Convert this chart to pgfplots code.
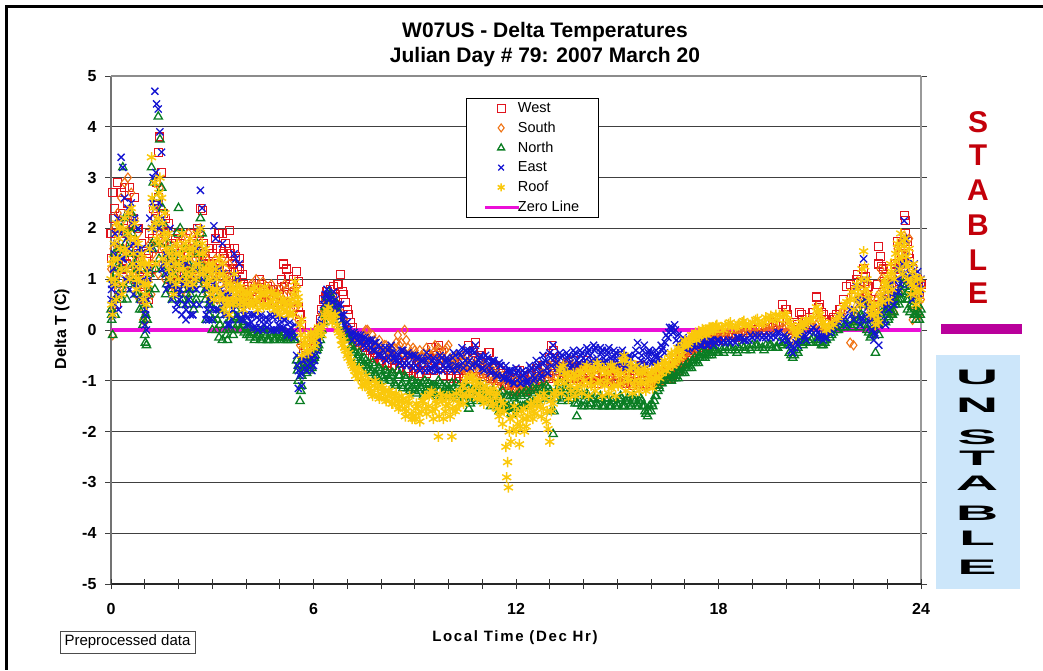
\documentclass[border=0pt]{standalone}
\usepackage{fontspec}
\setmainfont{Liberation Sans}
\usepackage{graphicx}
\usepackage{pgfplots}
\usepackage{pgfplotstable}
\pgfplotsset{compat=1.18}
\definecolor{cwest}{RGB}{225,20,30}
\definecolor{csouth}{RGB}{240,115,20}
\definecolor{cnorth}{RGB}{10,125,35}
\definecolor{ceast}{RGB}{20,20,210}
\definecolor{croof}{RGB}{250,200,10}
\definecolor{czero}{RGB}{235,15,215}
\definecolor{cbar}{RGB}{185,0,155}
\definecolor{cblue}{RGB}{204,230,250}
\definecolor{cstable}{RGB}{195,0,10}

% t west south north east roof
\pgfplotstableread{
t W S N E R
0.0 1.9 1.2 0.4 0.6 1.0
0.05 2.7 -0.1 -0.1 0.3 0.3
0.1 2.4 2.0 1.5 1.5 1.7
0.15 0.5 0.9 0.6 0.9 0.6
0.2 2.9 2.3 0.9 2.2 1.4
0.25 1.6 1.4 1.6 1.1 2.0
0.3 2.7 2.6 2.0 3.4 1.2
0.35 1.2 0.8 3.2 3.2 0.9
0.4 2.8 2.9 2.2 2.6 2.2
0.45 1.9 1.5 0.8 1.2 1.5
0.5 2.5 3.0 1.9 2.4 1.9
0.55 2.8 2.3 1.2 0.8 1.0
0.6 2.1 2.7 2.3 2.5 2.4
0.65 1.4 1.1 1.5 1.7 1.3
0.7 2.6 2.2 2.0 2.2 2.1
0.75 1.0 0.7 0.7 0.9 0.8
0.8 2.0 1.9 1.4 2.0 1.7
0.85 0.9 0.6 0.4 1.2 1.2
0.9 1.7 1.4 1.2 1.6 1.5
0.95 0.6 0.2 0.1 0.6 0.6
1.0 0.8 0.6 -0.1 0.1 1.3
1.05 1.4 0.2 -0.3 0.0 0.5
1.1 0.6 1.0 0.5 1.6 0.9
1.15 1.9 1.7 1.1 2.2 1.6
1.2 1.2 0.7 3.2 2.0 3.4
1.25 2.4 1.5 2.9 3.0 2.4
1.3 1.6 2.3 0.8 4.7 2.9
1.35 2.9 2.0 2.6 4.45 1.8
1.4 3.5 1.1 4.2 4.35 2.2
1.45 3.8 2.8 3.75 3.9 3.0
1.5 3.1 2.4 2.8 3.5 2.6
1.55 2.3 1.6 2.1 1.3 1.9
1.6 1.9 1.0 1.4 1.9 2.3
1.65 1.5 2.0 0.9 0.8 1.3
1.7 2.1 1.4 1.7 1.2 1.9
1.75 1.3 1.2 1.2 2.0 1.0
1.8 1.7 0.9 0.8 0.6 1.6
1.85 0.9 1.6 1.5 0.9 0.7
1.9 1.5 1.3 1.0 1.5 1.3
1.95 1.1 0.8 1.9 0.5 1.7
2.0 1.9 1.7 2.4 1.2 1.0
2.05 1.3 1.1 2.0 0.8 1.5
2.1 1.7 1.8 1.2 0.3 1.9
2.15 1.0 1.0 0.8 1.0 1.2
2.2 1.8 1.5 1.6 0.5 1.7
2.25 1.2 0.7 0.5 1.3 0.9
2.3 1.5 1.9 1.3 0.6 1.4
2.35 1.9 1.2 0.7 0.3 1.8
2.4 1.2 1.6 1.5 0.9 1.1
2.45 1.6 0.9 0.4 0.5 1.6
2.5 1.1 1.4 1.2 1.2 1.0
2.55 2.0 1.7 1.7 1.6 1.9
2.6 1.5 1.1 0.9 2.0 1.3
2.65 2.4 1.9 2.2 2.75 2.0
2.7 2.35 1.3 1.9 2.4 1.7
2.75 1.7 0.9 1.2 1.6 1.1
2.8 1.4 1.5 0.6 0.8 1.6
2.85 1.0 0.7 1.0 0.4 0.9
2.9 1.3 1.2 0.3 0.2 1.3
2.95 0.9 0.6 0.6 0.7 0.7
3.0 1.5 1.3 0.0 0.2 1.1
3.05 1.1 0.8 0.4 2.05 0.6
3.1 1.8 1.4 0.8 1.8 1.2
3.15 1.3 0.6 0.2 1.0 0.8
3.2 1.9 1.1 -0.15 0.4 1.4
3.25 1.6 0.9 0.3 0.8 0.7
3.3 1.9 1.4 -0.2 1.7 1.3
3.35 1.4 0.7 0.6 0.3 0.4
3.4 1.7 1.1 0.1 0.9 1.0
3.45 1.2 0.6 -0.2 0.1 0.6
3.5 1.95 1.3 0.5 0.5 0.3
3.55 1.5 0.7 0.0 0.2 0.9
3.6 1.3 1.0 0.3 1.1 0.6
3.65 1.6 0.5 0.0 1.5 1.1
3.7 1.45 0.9 0.4 1.4 0.7
3.75 1.2 0.6 0.1 0.3 0.9
3.8 1.4 0.8 0.2 1.3 0.5
3.85 0.9 0.6 0.0 0.6 0.8
3.9 1.1 0.7 0.1 0.2 0.7
3.95 0.8 0.5 -0.05 0.4 0.5
4.0 0.7 0.6 0.0 0.3 0.6
4.1 0.6 0.5 -0.1 0.1 0.7
4.2 0.7 0.8 -0.05 0.3 0.5
4.3 0.6 1.0 -0.15 0.05 0.6
4.4 1.0 0.7 -0.1 0.2 0.8
4.5 0.8 0.95 -0.2 0.0 0.5
4.6 0.7 0.6 -0.1 0.25 0.7
4.7 0.6 0.8 -0.2 0.1 0.45
4.8 0.8 0.55 -0.1 0.25 0.6
4.9 0.6 0.7 -0.15 0.0 0.5
5.0 0.7 0.5 -0.2 0.2 0.3
5.1 1.3 0.6 -0.1 0.05 0.6
5.2 1.2 0.8 -0.2 -0.05 0.35
5.3 0.9 0.5 -0.15 0.15 0.5
5.4 1.0 0.7 -0.1 -0.05 0.3
5.45 0.75 0.45 -0.2 0.1 0.95
5.5 1.15 0.85 -0.6 -0.5 0.8
5.55 0.45 0.2 -1.0 -1.15 0.5
5.6 0.3 -0.3 -1.4 -0.9 0.1
5.65 -0.2 -0.6 -1.1 -1.1 -0.5
5.7 -0.4 -0.8 -0.7 -0.6 -0.3
5.8 -0.5 -0.7 -0.85 -0.8 -0.4
5.9 -0.35 -0.5 -0.8 -0.65 -0.2
6.0 -0.1 -0.3 -0.6 -0.7 -0.35
6.1 -0.2 -0.1 -0.4 -0.4 -0.1
6.2 0.2 0.1 -0.2 0.1 0.0
6.3 0.6 0.4 0.3 0.5 0.1
6.4 0.75 0.5 0.65 0.8 0.4
6.5 0.8 0.7 0.7 0.45 0.3
6.6 0.85 0.6 0.4 0.75 0.2
6.7 0.9 0.5 0.5 0.35 0.1
6.8 1.1 0.3 0.2 0.5 -0.1
6.85 0.75 0.1 0.1 0.2 -0.3
6.9 0.7 0.2 0.0 0.3 -0.2
6.95 0.55 0.0 -0.1 0.05 -0.4
7.0 0.4 -0.1 -0.2 0.15 -0.5
7.05 0.3 -0.05 -0.15 0.0 -0.45
7.1 0.15 -0.2 -0.35 -0.1 -0.6
7.2 -0.1 -0.15 -0.4 -0.05 -0.75
7.3 -0.2 -0.3 -0.55 -0.2 -0.85
7.4 -0.25 -0.2 -0.65 -0.1 -0.95
7.5 -0.35 -0.1 -0.55 -0.3 -1.05
7.6 -0.3 0.0 -0.75 -0.2 -1.0
7.7 -0.4 -0.3 -0.85 -0.35 -1.2
7.8 -0.55 -0.2 -0.7 -0.25 -1.1
7.9 -0.5 -0.35 -0.95 -0.5 -1.15
8.0 -0.6 -0.45 -0.8 -0.35 -1.25
8.1 -0.45 -0.3 -1.0 -0.55 -1.2
8.2 -0.7 -0.4 -0.85 -0.4 -1.3
8.3 -0.55 -0.55 -0.9 -0.3 -1.25
8.4 -0.75 -0.35 -1.05 -0.55 -1.35
8.5 -0.6 -0.1 -0.8 -0.6 -1.4
8.6 -0.65 -0.25 -1.1 -0.4 -1.3
8.7 -0.5 0.0 -0.9 -0.65 -1.55
8.8 -0.8 -0.35 -1.15 -0.45 -1.4
8.9 -0.6 -0.5 -1.0 -0.7 -1.65
9.0 -0.75 -0.4 -1.2 -0.5 -1.75
9.1 -0.85 -0.55 -1.05 -0.75 -1.5
9.2 -0.65 -0.5 -1.15 -0.6 -1.6
9.3 -0.55 -0.6 -1.0 -0.8 -1.3
9.4 -0.8 -0.45 -1.2 -0.55 -1.5
9.5 -0.35 -0.5 -1.1 -0.75 -1.2
9.6 -0.6 -0.3 -1.25 -0.65 -1.55
9.7 -0.3 -0.35 -1.0 -0.8 -2.1
9.8 -0.45 -0.55 -1.3 -0.55 -1.35
9.9 -0.7 -0.4 -1.15 -0.75 -1.6
10.0 -0.8 -0.3 -1.2 -0.6 -1.45
10.1 -0.95 -0.6 -1.05 -0.8 -2.1
10.2 -0.75 -0.65 -1.3 -0.5 -1.6
10.3 -0.85 -0.75 -1.1 -0.7 -1.45
10.4 -0.65 -0.5 -1.25 -0.35 -1.3
10.5 -0.8 -0.8 -1.05 -0.6 -1.0
10.6 -0.3 -0.65 -1.55 -0.4 -1.2
10.7 -0.45 -0.9 -1.2 -0.7 -0.9
10.8 -0.25 -0.7 -1.35 -0.3 -1.1
10.9 -0.6 -0.85 -1.1 -0.6 -1.25
11.0 -0.55 -0.7 -1.3 -0.75 -1.35
11.1 -0.8 -0.9 -1.15 -0.5 -1.1
11.2 -0.45 -0.75 -1.4 -0.7 -1.25
11.3 -0.9 -1.0 -1.25 -0.6 -1.5
11.4 -0.7 -0.8 -1.45 -0.85 -1.3
11.5 -0.95 -1.0 -1.6 -0.65 -1.7
11.6 -0.85 -0.9 -1.2 -0.9 -1.85
11.7 -1.05 -1.1 -1.5 -0.7 -2.3
11.75 -0.9 -1.2 -1.3 -0.95 -2.6
11.8 -1.1 -1.0 -1.55 -0.8 -2.0
11.9 -0.95 -1.15 -1.3 -1.0 -1.7
12.0 -1.15 -1.0 -1.45 -0.75 -2.0
12.1 -0.8 -1.2 -1.25 -0.95 -2.25
12.2 -1.0 -1.05 -1.5 -0.8 -1.75
12.3 -1.2 -1.2 -1.2 -1.0 -1.9
12.4 -0.9 -1.0 -1.4 -0.7 -1.55
12.5 -1.1 -0.95 -1.15 -0.9 -1.75
12.6 -0.75 -1.15 -1.35 -0.6 -1.5
12.7 -0.95 -0.9 -1.05 -0.85 -1.3
12.8 -0.7 -0.85 -1.25 -0.5 -1.55
12.9 -0.85 -1.0 -1.1 -0.75 -1.8
13.0 -0.55 -0.7 -1.3 -0.45 -2.2
13.05 -0.3 -0.9 -1.6 -0.7 -1.6
13.1 -0.4 -0.75 -2.05 -0.3 -1.45
13.2 -0.9 -0.6 -1.2 -0.65 -1.2
13.3 -0.6 -0.8 -1.05 -0.45 -0.8
13.4 -1.0 -0.7 -1.3 -0.7 -0.7
13.5 -0.75 -0.9 -1.1 -0.45 -0.95
13.6 -0.85 -0.6 -1.25 -0.65 -1.1
13.7 -0.6 -0.85 -1.35 -0.4 -0.85
13.8 -0.95 -0.7 -1.7 -0.6 -1.15
13.9 -0.7 -0.95 -1.2 -0.4 -0.8
14.0 -0.85 -0.65 -1.4 -0.55 -1.0
14.1 -0.6 -0.9 -1.25 -0.35 -0.7
14.2 -0.95 -0.7 -1.45 -0.5 -1.05
14.3 -0.75 -1.0 -1.3 -0.3 -0.8
14.4 -1.0 -0.75 -1.45 -0.55 -0.65
14.5 -0.7 -0.95 -1.3 -0.35 -1.0
14.6 -0.9 -0.7 -1.5 -0.55 -0.75
14.7 -0.75 -1.0 -1.35 -0.4 -1.0
14.8 -0.95 -0.8 -1.5 -0.55 -0.7
14.9 -0.7 -1.0 -1.35 -0.4 -1.1
15.0 -0.9 -0.75 -1.45 -0.6 -0.8
15.1 -0.75 -1.05 -1.3 -0.45 -1.05
15.2 -1.0 -0.8 -1.5 -0.6 -0.5
15.3 -0.85 -1.0 -1.35 -0.7 -0.95
15.4 -1.05 -0.75 -1.45 -0.55 -0.65
15.5 -0.8 -1.0 -1.3 -0.7 -1.1
15.6 -0.95 -0.8 -1.45 -0.25 -0.8
15.7 -0.7 -1.05 -1.35 -0.6 -1.0
15.8 -1.0 -0.85 -1.5 -0.3 -0.75
15.9 -0.85 -1.05 -1.7 -0.55 -1.05
16.0 -1.1 -0.9 -1.6 -0.45 -0.85
16.1 -0.9 -1.0 -1.4 -0.65 -1.0
16.2 -1.05 -0.8 -1.2 -0.5 -0.7
16.3 -0.8 -1.0 -1.05 -0.3 -0.85
16.4 -0.95 -0.85 -1.0 -0.45 -0.6
16.5 -0.75 -0.9 -0.85 -0.15 -0.75
16.6 -0.95 -0.75 -1.0 0.0 -0.45
16.7 -0.7 -0.85 -0.85 0.1 -0.65
16.8 -0.8 -0.6 -0.95 -0.1 -0.35
16.9 -0.55 -0.7 -0.75 -0.3 -0.5
17.0 -0.65 -0.45 -0.85 -0.25 -0.2
17.1 -0.45 -0.55 -0.65 -0.4 -0.3
17.2 -0.5 -0.3 -0.75 -0.25 -0.1
17.3 -0.35 -0.4 -0.55 -0.35 -0.15
17.4 -0.4 -0.2 -0.65 -0.2 -0.05
17.5 -0.25 -0.3 -0.45 -0.3 -0.1
17.6 -0.3 -0.15 -0.55 -0.2 0.0
17.7 -0.2 -0.2 -0.4 -0.3 -0.05
17.8 -0.25 -0.1 -0.5 -0.2 0.05
17.9 -0.15 -0.15 -0.4 -0.25 0.0
18.0 -0.2 -0.1 -0.45 -0.2 0.05
18.2 -0.15 -0.05 -0.35 -0.25 0.1
18.4 -0.1 -0.1 -0.4 -0.2 0.05
18.6 -0.1 0.0 -0.35 -0.15 0.12
18.8 -0.05 -0.05 -0.4 -0.2 0.08
19.0 0.0 0.0 -0.3 -0.15 0.15
19.2 0.05 -0.05 -0.35 -0.1 0.1
19.4 0.05 0.05 -0.3 -0.15 0.25
19.6 0.1 0.0 -0.35 -0.1 0.18
19.8 0.15 0.1 -0.25 -0.05 0.3
19.9 0.5 0.05 -0.3 -0.2 0.25
20.0 0.4 0.05 -0.2 -0.15 0.3
20.1 0.1 -0.1 -0.45 -0.3 0.15
20.2 0.0 -0.2 -0.55 -0.45 0.0
20.3 0.05 -0.1 -0.4 -0.25 -0.1
20.4 0.35 0.0 -0.2 -0.1 0.1
20.5 0.2 0.1 -0.3 0.0 0.05
20.6 0.15 -0.05 -0.25 -0.2 0.2
20.8 0.35 0.05 -0.15 0.05 0.25
20.9 0.65 0.1 -0.2 0.0 0.45
21.0 0.5 0.2 -0.25 -0.1 0.3
21.1 0.3 0.0 -0.3 -0.2 0.15
21.2 0.2 -0.1 -0.2 -0.15 0.0
21.4 0.25 0.1 -0.05 0.05 0.1
21.6 0.4 0.3 0.05 0.25 0.3
21.8 0.85 0.5 0.1 0.1 0.55
21.9 0.9 -0.25 0.2 0.4 0.6
22.0 0.7 -0.3 0.15 0.2 0.4
22.1 1.0 0.4 0.3 0.85 0.9
22.2 0.95 0.6 0.05 0.1 0.5
22.3 1.2 0.8 0.5 1.4 1.55
22.35 1.05 0.5 0.1 0.6 0.8
22.4 0.7 0.9 0.0 0.3 1.0
22.5 0.6 0.4 -0.15 0.05 0.3
22.6 0.45 0.2 -0.1 -0.2 0.5
22.65 0.5 0.3 -0.45 -0.1 0.1
22.7 0.9 0.6 0.2 0.3 0.2
22.75 1.65 0.7 -0.1 -0.3 0.15
22.8 1.45 1.2 0.3 0.5 0.7
22.9 1.2 0.9 0.4 0.2 0.8
23.0 0.75 0.7 0.3 0.75 1.05
23.05 0.55 0.4 0.25 0.4 0.6
23.1 1.2 0.85 0.5 0.9 1.3
23.15 0.7 0.4 0.3 0.6 0.8
23.2 0.65 0.35 0.35 0.5 1.0
23.3 1.75 1.6 0.7 1.2 1.7
23.35 0.95 0.75 0.5 1.0 1.4
23.4 1.3 1.25 0.6 0.9 1.9
23.45 1.7 1.75 0.9 1.3 1.1
23.5 2.25 1.85 1.0 2.15 1.65
23.55 2.15 1.5 0.7 1.75 1.3
23.6 1.75 1.1 0.4 1.3 1.0
23.65 1.4 1.8 0.8 0.9 1.6
23.7 0.9 0.5 0.5 1.25 0.7
23.75 1.2 0.2 0.6 0.6 1.15
23.8 0.6 0.8 0.3 1.3 0.85
23.85 0.8 0.4 0.2 0.9 0.5
23.9 1.0 0.5 0.5 1.15 1.0
23.95 0.7 0.3 0.2 0.7 0.6
24.0 0.9 0.6 0.4 1.0 0.8
}\obs

% second sampling, 4 h to 22 h, and a further pass over the noisy ends
\pgfplotstableread{
t W S N E R
0.02 1.4 0.4 0.2 0.8 0.5
0.07 2.2 1.6 1.0 1.2 1.4
0.12 1.1 0.6 0.3 0.5 0.9
0.17 2.0 1.9 1.4 1.7 2.1
0.22 0.8 1.2 0.7 0.4 1.1
0.27 2.3 2.1 1.2 1.9 1.6
0.37 2.0 1.3 1.5 1.4 2.0
0.47 1.3 1.0 0.6 1.8 1.2
0.57 1.7 2.0 1.0 1.0 1.8
0.67 2.2 1.7 1.3 0.7 1.5
0.77 1.5 1.2 0.9 1.5 1.0
0.87 1.2 0.9 0.6 0.6 1.3
0.97 1.0 0.4 0.2 1.0 0.9
1.02 0.7 0.3 -0.25 0.3 0.7
1.07 1.1 0.8 0.2 0.6 1.1
1.12 1.5 1.2 0.7 1.0 1.3
1.22 1.8 1.3 1.6 1.6 2.6
1.32 2.2 1.6 1.2 2.4 2.1
1.42 2.6 1.8 1.7 2.0 2.7
1.52 1.6 1.3 1.2 1.2 1.4
1.62 2.2 1.7 0.7 1.5 1.8
1.72 1.0 0.8 1.0 0.9 1.5
1.82 1.4 1.2 0.6 1.3 1.1
1.92 1.8 1.0 1.3 0.4 1.5
2.02 1.5 1.4 0.9 0.7 1.2
2.12 1.3 0.8 0.5 0.9 1.4
2.22 1.6 1.2 1.0 0.2 1.1
2.32 1.1 1.6 0.6 0.8 1.6
2.42 1.7 1.0 0.8 0.3 0.9
2.52 1.4 1.5 0.5 1.0 1.3
2.62 1.9 1.3 1.3 0.5 1.5
2.72 1.5 1.0 0.7 1.0 1.2
2.82 1.2 1.4 0.2 0.2 0.9
2.92 1.6 0.8 0.5 0.5 1.2
3.02 1.3 1.1 0.2 0.9 0.8
3.12 1.6 0.7 0.0 0.4 1.0
3.22 1.2 1.2 0.4 1.2 0.6
3.32 1.5 0.8 0.0 0.5 1.1
3.42 1.1 1.0 -0.1 0.7 0.5
3.52 1.6 0.6 0.2 0.1 0.8
3.62 1.2 0.9 -0.1 0.4 0.5
3.72 1.0 0.6 0.2 0.9 0.8
3.82 1.2 0.7 0.0 0.2 0.6
3.92 0.9 0.8 0.15 0.5 0.4
4.05 0.85 0.75 0.05 0.25 0.75
4.15 0.55 0.9 -0.05 0.15 0.55
4.25 0.8 0.65 -0.2 0.3 0.85
4.35 0.65 0.85 0.0 0.0 0.4
4.45 0.9 0.6 -0.15 0.3 0.7
4.55 0.6 0.8 0.0 0.1 0.85
4.65 0.85 0.7 -0.2 0.2 0.5
4.75 0.7 0.9 -0.05 0.0 0.75
4.85 0.55 0.6 -0.2 0.3 0.4
4.95 0.8 0.8 -0.05 0.1 0.7
5.05 1.0 0.65 -0.15 0.0 0.45
5.15 0.85 0.9 -0.05 0.2 0.55
5.25 1.05 0.55 -0.2 0.0 0.3
5.35 0.7 0.75 -0.1 -0.1 0.6
5.55 0.95 0.5 -0.7 -0.8 0.65
5.65 0.1 0.0 -0.9 -0.6 0.2
5.75 -0.3 -0.5 -0.75 -0.75 -0.15
5.85 -0.55 -0.65 -0.7 -0.5 -0.45
5.95 -0.2 -0.4 -0.75 -0.8 -0.1
6.05 -0.3 -0.2 -0.5 -0.5 -0.3
6.15 0.0 0.0 -0.3 -0.2 0.05
6.25 0.4 0.3 0.0 0.3 -0.1
6.35 0.65 0.6 0.45 0.7 0.25
6.45 0.5 0.4 0.75 0.6 0.45
6.55 0.7 0.55 0.55 0.55 0.15
6.65 0.65 0.35 0.3 0.6 0.3
6.75 0.9 0.4 0.35 0.25 -0.05
7.15 0.05 -0.25 -0.45 -0.2 -0.7
7.25 -0.15 -0.1 -0.6 -0.1 -0.9
7.35 -0.3 -0.25 -0.45 -0.25 -0.75
7.45 -0.2 -0.15 -0.7 -0.15 -1.1
7.55 -0.4 0.0 -0.6 -0.35 -0.9
7.65 -0.35 -0.2 -0.8 -0.2 -1.15
7.75 -0.5 -0.1 -0.65 -0.4 -1.3
7.85 -0.45 -0.3 -0.9 -0.25 -1.05
7.95 -0.6 -0.2 -0.75 -0.5 -1.35
8.05 -0.5 -0.4 -0.95 -0.4 -1.15
8.15 -0.65 -0.3 -0.8 -0.6 -1.4
8.25 -0.5 -0.5 -1.0 -0.35 -1.2
8.35 -0.7 -0.4 -0.85 -0.55 -1.45
8.45 -0.6 -0.25 -1.1 -0.45 -1.25
8.55 -0.75 -0.3 -0.9 -0.65 -1.5
8.65 -0.55 -0.45 -1.15 -0.4 -1.35
8.75 -0.75 -0.2 -0.95 -0.7 -1.6
8.85 -0.6 -0.45 -1.2 -0.5 -1.3
8.95 -0.85 -0.35 -1.0 -0.75 -1.7
9.05 -0.7 -0.5 -1.25 -0.55 -1.45
9.15 -0.9 -0.4 -1.1 -0.8 -1.8
9.25 -0.7 -0.55 -1.3 -0.6 -1.4
9.35 -0.85 -0.35 -1.05 -0.45 -1.65
9.45 -0.55 -0.55 -1.25 -0.75 -1.25
9.55 -0.8 -0.45 -1.1 -0.55 -1.75
9.65 -0.5 -0.6 -1.3 -0.8 -1.45
9.75 -0.75 -0.4 -1.05 -0.5 -1.25
9.85 -0.9 -0.6 -1.25 -0.7 -1.75
9.95 -0.65 -0.35 -1.1 -0.55 -1.3
10.05 -0.9 -0.55 -1.3 -0.75 -1.7
10.15 -0.7 -0.7 -1.15 -0.45 -1.35
10.25 -0.95 -0.5 -1.35 -0.8 -1.55
10.35 -0.75 -0.75 -1.2 -0.5 -1.2
10.45 -0.9 -0.6 -1.4 -0.75 -1.45
10.55 -0.5 -0.8 -1.15 -0.45 -0.95
10.65 -0.7 -0.6 -1.45 -0.75 -1.3
10.75 -0.4 -0.85 -1.2 -0.45 -1.0
10.85 -0.75 -0.65 -1.4 -0.7 -1.35
10.95 -0.5 -0.9 -1.2 -0.5 -1.05
11.05 -0.85 -0.7 -1.4 -0.8 -1.45
11.15 -0.65 -0.95 -1.25 -0.55 -1.2
11.25 -0.95 -0.75 -1.5 -0.85 -1.4
11.35 -0.75 -1.0 -1.3 -0.6 -1.15
11.45 -1.0 -0.85 -1.5 -0.9 -1.55
11.55 -0.8 -1.1 -1.35 -0.7 -1.4
11.65 -1.1 -0.95 -1.55 -0.95 -1.6
11.85 -1.0 -1.1 -1.65 -0.8 -2.2
11.95 -1.2 -1.0 -1.35 -1.05 -1.5
12.05 -0.95 -1.25 -1.55 -0.8 -1.85
12.15 -1.15 -1.05 -1.3 -1.05 -1.6
12.25 -0.9 -1.2 -1.5 -0.85 -2.0
12.35 -1.1 -1.05 -1.25 -1.0 -1.7
12.45 -0.85 -1.15 -1.45 -0.75 -1.45
12.55 -1.05 -0.95 -1.2 -0.95 -1.65
12.65 -0.8 -1.1 -1.4 -0.7 -1.4
12.75 -1.0 -0.85 -1.15 -0.9 -1.7
12.85 -0.75 -1.05 -1.35 -0.6 -1.35
12.95 -0.95 -0.8 -1.15 -0.85 -1.95
13.15 -0.7 -0.95 -1.35 -0.55 -1.3
13.25 -0.95 -0.7 -1.15 -0.8 -1.0
13.35 -0.75 -0.9 -1.4 -0.5 -1.25
13.45 -0.95 -0.65 -1.2 -0.75 -0.85
13.55 -0.7 -0.85 -1.4 -0.5 -1.35
13.65 -0.95 -0.7 -1.2 -0.7 -0.95
13.75 -0.75 -0.95 -1.45 -0.45 -1.3
13.85 -1.0 -0.75 -1.3 -0.65 -0.9
13.95 -0.8 -1.0 -1.5 -0.45 -1.25
14.05 -1.0 -0.75 -1.3 -0.6 -0.75
14.15 -0.8 -0.95 -1.5 -0.4 -1.3
14.25 -1.05 -0.8 -1.35 -0.6 -0.9
14.35 -0.85 -1.0 -1.5 -0.35 -1.2
14.45 -1.05 -0.8 -1.35 -0.6 -0.7
14.55 -0.85 -1.05 -1.5 -0.4 -1.3
14.65 -1.0 -0.75 -1.35 -0.6 -0.85
14.75 -0.8 -1.05 -1.5 -0.35 -1.25
14.85 -1.05 -0.85 -1.4 -0.6 -0.7
14.95 -0.8 -1.0 -1.5 -0.45 -1.3
15.05 -1.0 -0.8 -1.35 -0.65 -0.9
15.15 -0.8 -1.05 -1.5 -0.4 -0.6
15.25 -1.05 -0.85 -1.4 -0.7 -1.2
15.35 -0.9 -1.05 -1.5 -0.5 -0.8
15.45 -1.1 -0.85 -1.35 -0.75 -1.25
15.55 -0.85 -1.05 -1.5 -0.4 -0.7
15.65 -1.05 -0.85 -1.4 -0.7 -1.2
15.75 -0.85 -1.1 -1.5 -0.4 -0.85
15.85 -1.1 -0.9 -1.65 -0.65 -1.2
15.95 -0.9 -1.1 -1.5 -0.4 -0.9
16.05 -1.05 -0.9 -1.5 -0.6 -1.15
16.15 -0.85 -1.05 -1.3 -0.4 -0.8
16.25 -1.0 -0.9 -1.15 -0.55 -0.95
16.35 -0.85 -1.0 -1.0 -0.35 -0.7
16.45 -0.9 -0.85 -0.95 -0.1 -0.8
16.55 -0.8 -0.95 -0.9 0.05 -0.55
16.65 -0.85 -0.7 -0.95 -0.05 -0.7
16.75 -0.65 -0.8 -0.9 -0.2 -0.45
16.85 -0.75 -0.6 -0.85 -0.35 -0.55
16.95 -0.55 -0.65 -0.8 -0.15 -0.3
17.05 -0.6 -0.45 -0.75 -0.35 -0.25
17.15 -0.4 -0.5 -0.7 -0.2 -0.2
17.25 -0.45 -0.3 -0.65 -0.3 -0.1
17.35 -0.3 -0.35 -0.6 -0.2 -0.2
17.45 -0.35 -0.2 -0.55 -0.3 -0.05
17.55 -0.25 -0.25 -0.5 -0.2 0.0
17.65 -0.3 -0.15 -0.5 -0.3 -0.1
17.75 -0.2 -0.2 -0.45 -0.2 0.05
17.85 -0.2 -0.1 -0.4 -0.3 0.0
17.95 -0.15 -0.15 -0.45 -0.2 0.1
18.1 -0.2 -0.05 -0.4 -0.25 0.05
18.3 -0.1 -0.1 -0.35 -0.2 0.12
18.5 -0.15 0.0 -0.4 -0.25 0.05
18.7 -0.05 -0.05 -0.3 -0.15 0.15
18.9 -0.05 0.0 -0.35 -0.2 0.1
19.1 0.0 -0.05 -0.3 -0.1 0.2
19.3 0.0 0.05 -0.35 -0.15 0.12
19.5 0.05 0.0 -0.3 -0.1 0.22
19.7 0.15 0.05 -0.35 -0.15 0.3
20.05 0.3 -0.05 -0.3 -0.2 0.2
20.25 0.15 -0.15 -0.5 -0.35 0.05
20.35 0.1 0.0 -0.35 -0.2 -0.05
20.45 0.3 0.05 -0.25 -0.05 0.15
20.55 0.1 0.0 -0.2 -0.15 0.1
20.7 0.25 0.05 -0.25 -0.05 0.2
20.95 0.45 0.15 -0.2 -0.05 0.4
21.05 0.35 0.05 -0.3 -0.15 0.2
21.15 0.2 -0.05 -0.25 -0.1 0.05
21.3 0.2 0.05 -0.15 -0.05 0.05
21.5 0.3 0.2 0.0 0.1 0.2
21.7 0.6 0.35 0.05 0.2 0.45
22.03 0.8 0.2 0.1 0.4 0.6
22.13 1.1 0.6 0.2 0.6 0.8
22.23 0.75 0.5 0.3 0.25 1.0
22.33 0.95 0.7 0.2 1.0 1.25
22.43 0.85 0.6 0.1 0.45 0.7
22.53 0.5 0.3 -0.1 0.2 0.45
22.63 0.6 0.25 0.0 -0.05 0.3
22.73 1.3 0.5 0.1 0.2 0.35
22.83 1.25 1.0 0.25 0.35 0.6
22.93 0.95 0.7 0.35 0.6 0.95
23.03 0.7 0.55 0.2 0.5 0.85
23.13 0.9 0.6 0.35 0.7 1.15
23.23 1.3 1.0 0.55 0.95 1.35
23.33 1.2 1.3 0.6 0.75 1.6
23.43 1.5 1.5 0.75 1.1 1.45
23.53 1.9 1.4 0.85 1.45 1.8
23.63 1.5 1.3 0.6 1.05 1.25
23.73 1.0 0.7 0.45 1.0 0.9
23.83 0.85 0.6 0.3 1.1 1.05
23.93 0.95 0.45 0.35 0.85 0.75
}\obsb

% third sampling of the three bands on top
\pgfplotstableread{
t N E R
0.025 0.3 0.9 1.3
0.125 1.1 1.9 1.0
0.225 1.3 0.7 1.8
0.325 0.6 1.4 0.7
0.425 1.7 1.0 1.6
0.525 0.9 1.6 2.3
0.625 1.9 2.1 1.1
0.725 1.1 1.3 1.8
0.825 0.7 1.6 1.0
0.925 0.4 0.9 1.4
1.025 0.3 0.4 0.9
1.125 0.8 1.2 1.3
1.225 1.7 2.5 2.0
1.325 2.1 3.1 1.3
1.425 1.4 2.5 1.7
1.525 2.4 2.2 2.1
1.625 1.1 1.1 1.6
1.725 1.5 0.9 1.2
1.825 1.1 1.3 1.4
1.925 0.7 0.8 0.9
2.025 1.4 0.6 1.3
2.125 0.6 1.3 1.6
2.225 1.1 0.4 1.0
2.325 0.8 0.9 1.5
2.425 1.2 0.3 1.2
2.525 0.6 0.8 1.7
2.625 1.5 1.3 1.1
2.725 1.0 1.1 1.5
2.825 0.8 0.3 1.2
2.925 0.5 0.6 1.0
3.025 0.2 0.4 1.3
3.125 0.6 1.2 0.8
3.225 0.1 0.6 1.1
3.325 0.4 1.1 0.6
3.425 0.0 0.3 0.9
3.525 0.2 0.7 0.5
3.625 0.1 0.4 0.8
3.725 0.25 1.0 0.6
3.825 0.0 0.5 0.85
3.925 0.1 0.3 0.55
4.025 -0.1 0.1 0.7
4.125 -0.15 0.3 0.5
4.225 0.0 0.05 0.8
4.325 -0.1 0.25 0.55
4.425 -0.2 0.05 0.7
4.525 -0.05 0.2 0.45
4.625 -0.2 0.05 0.75
4.725 -0.1 0.3 0.55
4.825 -0.2 0.0 0.7
4.925 -0.05 0.25 0.4
5.025 -0.15 0.05 0.55
5.125 -0.2 0.2 0.4
5.225 -0.1 -0.1 0.5
5.325 -0.2 0.05 0.35
5.425 -0.15 -0.15 0.7
5.525 -0.8 -0.7 0.55
5.625 -1.2 -0.85 -0.1
5.725 -0.8 -0.55 -0.25
5.825 -0.65 -0.7 -0.3
5.925 -0.7 -0.55 -0.05
6.025 -0.55 -0.6 -0.2
6.125 -0.35 -0.25 0.0
6.225 -0.1 0.15 0.05
6.325 0.15 0.6 0.3
6.425 0.5 0.7 0.35
6.525 0.6 0.6 0.25
6.625 0.45 0.45 0.3
6.725 0.3 0.5 0.0
6.825 0.1 0.3 -0.2
6.925 0.0 0.1 -0.35
7.025 -0.15 0.0 -0.55
7.125 -0.3 -0.05 -0.65
7.225 -0.45 -0.15 -0.8
7.325 -0.5 -0.1 -0.95
7.425 -0.6 -0.25 -0.85
7.525 -0.7 -0.15 -1.1
7.625 -0.65 -0.3 -1.05
7.725 -0.8 -0.2 -1.25
7.825 -0.85 -0.4 -1.0
7.925 -0.75 -0.3 -1.3
8.025 -0.9 -0.5 -1.1
8.125 -0.8 -0.35 -1.35
8.225 -0.95 -0.55 -1.2
8.325 -0.85 -0.45 -1.45
8.425 -1.1 -0.6 -1.3
8.525 -0.9 -0.5 -1.55
8.625 -1.05 -0.7 -1.4
8.725 -0.95 -0.5 -1.7
8.825 -1.1 -0.65 -1.45
8.925 -1.15 -0.5 -1.75
9.025 -1.05 -0.7 -1.55
9.125 -1.2 -0.55 -1.65
9.225 -1.05 -0.75 -1.4
9.325 -1.2 -0.6 -1.55
9.425 -1.05 -0.8 -1.3
9.525 -1.25 -0.6 -1.6
9.625 -1.1 -0.7 -1.4
9.725 -1.2 -0.6 -1.7
9.825 -1.1 -0.8 -1.4
9.925 -1.3 -0.6 -1.5
10.025 -1.15 -0.7 -1.3
10.125 -1.25 -0.55 -1.55
10.225 -1.05 -0.7 -1.25
10.325 -1.3 -0.45 -1.45
10.425 -1.1 -0.65 -1.1
10.525 -1.3 -0.4 -1.3
10.625 -1.4 -0.6 -0.95
10.725 -1.15 -0.4 -1.2
10.825 -1.3 -0.65 -1.0
10.925 -1.15 -0.55 -1.3
11.025 -1.35 -0.75 -1.15
11.125 -1.2 -0.6 -1.35
11.225 -1.35 -0.8 -1.2
11.325 -1.2 -0.65 -1.45
11.425 -1.4 -0.9 -1.25
11.525 -1.25 -0.7 -1.6
11.625 -1.45 -0.95 -1.45
11.725 -1.3 -0.8 -2.9
11.775 -1.5 -1.0 -3.1
11.825 -1.3 -0.85 -1.75
11.925 -1.5 -1.05 -1.95
12.025 -1.3 -0.85 -1.65
12.125 -1.5 -1.05 -1.9
12.225 -1.25 -0.9 -1.55
12.325 -1.45 -1.05 -1.75
12.425 -1.2 -0.8 -1.45
12.525 -1.4 -1.0 -1.6
12.625 -1.2 -0.75 -1.35
12.725 -1.35 -0.95 -1.5
12.825 -1.15 -0.65 -1.25
12.925 -1.3 -0.85 -1.6
13.025 -1.2 -0.55 -1.4
13.125 -1.6 -0.5 -1.25
13.225 -1.25 -0.75 -1.05
13.325 -1.1 -0.55 -0.75
13.425 -1.35 -0.8 -1.05
13.525 -1.15 -0.55 -0.85
13.625 -1.35 -0.75 -1.2
13.725 -1.25 -0.5 -0.95
13.825 -1.45 -0.7 -1.1
13.925 -1.3 -0.5 -0.85
14.025 -1.5 -0.65 -1.1
14.125 -1.3 -0.45 -0.8
14.225 -1.45 -0.65 -1.1
14.325 -1.35 -0.4 -0.75
14.425 -1.5 -0.65 -1.05
14.525 -1.35 -0.45 -0.8
14.625 -1.5 -0.65 -1.1
14.725 -1.35 -0.45 -0.85
14.825 -1.5 -0.65 -1.15
14.925 -1.35 -0.5 -0.8
15.025 -1.5 -0.7 -1.1
15.125 -1.35 -0.5 -0.85
15.225 -1.5 -0.75 -0.6
15.325 -1.4 -0.55 -1.0
15.425 -1.5 -0.75 -0.75
15.525 -1.4 -0.5 -1.0
15.625 -1.5 -0.7 -0.85
15.725 -1.4 -0.5 -1.05
15.825 -1.6 -0.7 -0.8
15.925 -1.6 -0.45 -1.0
16.025 -1.45 -0.65 -0.8
16.125 -1.3 -0.5 -0.95
16.225 -1.1 -0.6 -0.75
16.325 -1.05 -0.4 -0.85
16.425 -0.9 -0.25 -0.65
16.525 -1.0 -0.05 -0.7
16.625 -0.9 0.05 -0.5
16.725 -0.95 0.0 -0.6
16.825 -0.8 -0.25 -0.4
16.925 -0.85 -0.35 -0.4
17.025 -0.7 -0.3 -0.25
17.125 -0.75 -0.35 -0.25
17.225 -0.6 -0.25 -0.15
17.325 -0.65 -0.3 -0.05
17.425 -0.5 -0.2 -0.12
17.525 -0.55 -0.3 0.02
17.625 -0.45 -0.2 -0.05
17.725 -0.5 -0.25 0.05
17.825 -0.45 -0.2 0.0
17.925 -0.4 -0.25 0.08
18.15 -0.45 -0.2 0.0
18.35 -0.35 -0.25 0.15
18.55 -0.45 -0.15 0.08
18.75 -0.35 -0.2 0.18
18.95 -0.4 -0.1 0.1
19.15 -0.3 -0.15 0.22
19.35 -0.4 -0.1 0.15
19.55 -0.3 -0.15 0.28
19.75 -0.35 -0.05 0.2
19.95 -0.25 -0.1 0.32
20.15 -0.5 -0.4 0.1
20.35 -0.45 -0.3 0.0
20.55 -0.25 -0.1 0.15
20.75 -0.2 0.0 0.2
20.95 -0.25 -0.15 0.35
21.15 -0.2 -0.15 0.1
21.35 -0.1 0.0 0.15
21.55 0.0 0.15 0.25
21.75 0.1 0.25 0.5
21.95 0.05 0.3 0.75
22.15 0.15 0.5 0.7
22.25 0.25 0.2 1.2
22.45 -0.05 0.2 0.6
22.55 -0.1 0.0 0.4
22.75 0.1 0.1 0.5
22.85 0.35 0.5 0.55
22.95 0.15 0.1 0.9
23.025 0.4 0.9 0.75
23.125 0.3 0.6 1.1
23.25 0.5 0.75 1.5
23.375 0.7 1.2 1.2
23.475 0.9 1.8 1.75
23.575 0.6 1.0 1.45
23.675 0.35 1.1 0.95
23.775 0.5 0.9 1.3
23.875 0.3 1.0 0.75
23.975 0.3 0.8 1.0
}\obsc

\begin{document}
\begin{tikzpicture}[x=1pt,y=1pt]
\path[use as bounding box] (0,0) rectangle (1043,670);
% frame, top and left only
\fill[black] (5,670-8) rectangle (1043,670-5);
\fill[black] (5,0) rectangle (8,670-5);

\begin{axis}[
  at={(111pt,86pt)}, anchor=south west,
  scale only axis, width=810pt, height=508pt,
  xmin=0, xmax=24, ymin=-5, ymax=5,
  xtick={0,6,12,18,24},
  ytick={-5,-4,...,5},
  yticklabels={-5,-4,-3,-2,-1,0,1,2,3,4,5},
  axis line style={draw=none},
  tick align=outside,
  tick style={black!75, line width=0.8pt},
  major tick length=6pt,
  xtick style={draw=none},
  ymajorgrids,
  grid style={black!75, line width=1.2pt},
  clip=false,
  /pgf/number format/assume math mode=true,
  ticklabel style={font=\fontsize{16}{18}\selectfont\bfseries},
  xticklabel style={yshift=-10pt},
  yticklabel style={xshift=-5pt},
  legend cell align=left,
  legend style={at={(355pt,486pt)}, anchor=north west, draw=black, line width=0.8pt,
    font=\fontsize{14.5}{15}\selectfont, row sep=4pt, inner xsep=17pt, inner ysep=2pt, fill=white,
    /tikz/column 1/.style={column sep=-5pt}},
  legend image code/.code={\draw[#1, mark size=4pt] plot coordinates {(0pt,0pt)};},
  wmark/.style={only marks, mark=square, mark size=4pt, mark options={cwest, line width=1.1pt}},
  smark/.style={only marks, mark=diamond, mark size=4.6pt, mark options={csouth, line width=1.1pt}},
  nmark/.style={only marks, mark=triangle, mark size=4.8pt, mark options={cnorth, line width=1.3pt}},
  emark/.style={only marks, mark=x, mark size=5pt, mark options={ceast, line width=1.3pt}},
  rmark/.style={only marks, mark=asterisk, mark size=5.2pt, mark options={croof, line width=1.5pt}},
]
% axis lines
\addplot[forget plot, black!55, line width=1.6pt, mark=none] coordinates {(0,-5) (0,5)};
\addplot[forget plot, black!40, line width=1.2pt, mark=none] coordinates {(24,-5) (24,5)};
\addplot[forget plot, black!45, line width=1.2pt, mark=none] coordinates {(0,5) (24,5)};
\addplot[forget plot, black!85, line width=1.2pt, mark=none] coordinates {(0,-5) (24,-5)};
% zero line is under the marks
\addplot[forget plot, czero, line width=3.5pt, mark=none] coordinates {(0,0) (24,0)};

\addplot[wmark] table[x=t,y=W] {\obs};
\addlegendentry{West}
\addplot[wmark, forget plot] table[x=t,y=W] {\obsb};
\addplot[smark] table[x=t,y=S] {\obs};
\addlegendentry{South}
\addplot[smark, forget plot] table[x=t,y=S] {\obsb};
\addplot[nmark] table[x=t,y=N] {\obs};
\addlegendentry{North}
\addplot[nmark, forget plot] table[x=t,y=N] {\obsb};
\addplot[nmark, forget plot] table[x=t,y=N] {\obsc};
\addplot[emark] table[x=t,y=E] {\obs};
\addlegendentry{East}
\addplot[emark, forget plot] table[x=t,y=E] {\obsb};
\addplot[emark, forget plot] table[x=t,y=E] {\obsc};
\addplot[rmark] table[x=t,y=R] {\obs};
\addlegendentry{Roof}
\addplot[rmark, forget plot] table[x=t,y=R] {\obsb};
\addplot[rmark, forget plot] table[x=t,y=R] {\obsc};
\addlegendimage{legend image code/.code={\draw[czero, line width=3.5pt] (-16pt,0pt) -- (18pt,0pt);}}
\addlegendentry{Zero Line}
\end{axis}

% hourly ticks on the x axis
\foreach \h in {0,...,24} \draw[black!80, line width=0.8pt] ({111+33.75*\h},86-5) -- ({111+33.75*\h},86+5);

\node[font=\fontsize{21}{25}\selectfont\bfseries, align=center] at (545,670-44.5) {W07US - Delta Temperatures\\Julian Day \# 79:  2007 March 20};
\node[font=\fontsize{16}{18}\selectfont\bfseries, rotate=90] at (62,670-329) {Delta T (C)};
\node[font=\fontsize{15}{16}\selectfont\bfseries] at (515,670-638) {\addfontfeature{LetterSpace=11}Local Time (Dec Hr)};
\node[draw=black!70, line width=0.8pt, font=\fontsize{15}{17}\selectfont, inner sep=0pt, minimum width=135pt, minimum height=22pt] at (127.5,670-642) {Preprocessed data};

% stability labels on the right
\foreach \c/\py in {S/122,T/155,A/190,B/225,L/260,E/293}
  \node[text=cstable, font=\fontsize{30}{30}\selectfont\bfseries] at (978,670-\py) {\c};
\fill[cbar] (941,670-334) rectangle (1022,670-324);
\fill[cblue] (936,670-589) rectangle (1020,670-355);
\foreach \c/\py in {U/377,N/405,S/437,T/458,A/483,B/513,L/538,E/567}
  \node[font=\fontsize{21}{21}\selectfont\bfseries] at (977,670-\py) {\scalebox{2.8}[1]{\c}};
\end{tikzpicture}
\end{document}
